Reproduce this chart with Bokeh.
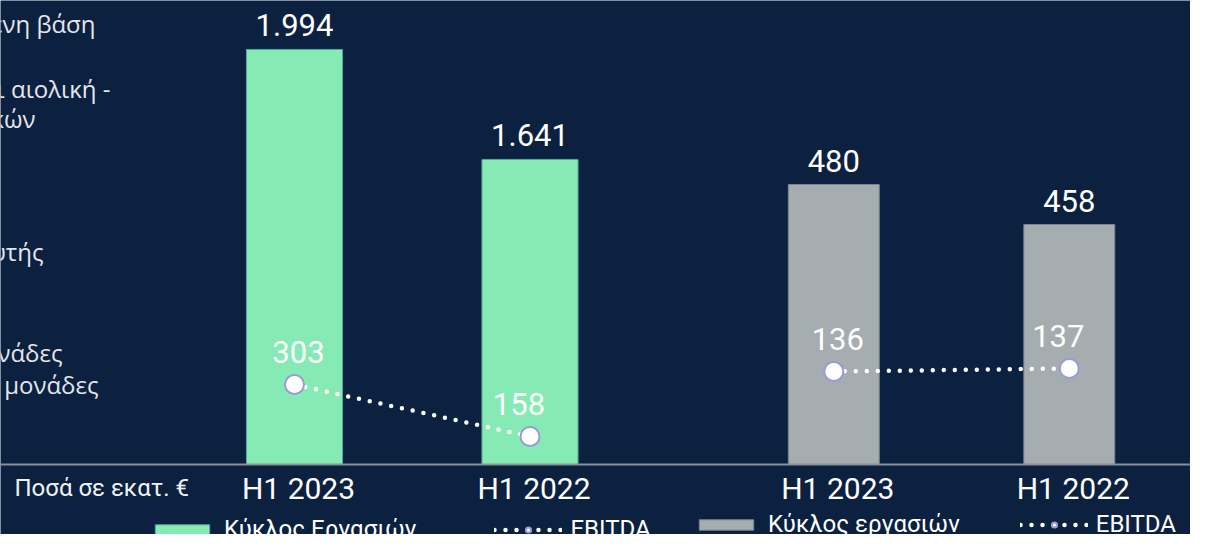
import numpy as np
from bokeh.plotting import figure
from bokeh.models import Range1d, ColumnDataSource, Label, Legend, LegendItem, Span
from bokeh.core.properties import value
from bokeh.embed import file_html
from bokeh.resources import INLINE

# ---------------- data ----------------
periods = ["H1 2023", "H1 2022"]
revenue_a = [1994, 1641]          # Κύκλος Εργασιών (green)
ebitda_a = [303, 158]
revenue_b = [480, 458]            # Κύκλος εργασιών (gray)
ebitda_b = [136, 137]
legend_rev_a = "Κύκλος Εργασιών"
legend_rev_b = "Κύκλος εργασιών"
legend_ebitda = "EBITDA"
unit_note = "Ποσά σε εκατ. €"
left_fragments = ["ενη βάση", "ι αιολική -", "κών", "υτής", "νάδες", "ς μονάδες"]


def gr(v):
    return f"{v:,}".replace(",", ".")


# ---------------- layout / style ----------------
W, H = 1190, 534
BELOW = 70                 # px under the baseline
ABOVE = H - BELOW
SLOT = 235.5               # px per category slot
FIRST = 294.0              # px of first category centre
GROUP_B_OFFSET = 2.29      # slot offset of second group
EB_LABEL_DX = [4, -11]     # small horizontal nudges of EBITDA labels

NAVY = "#0c2140"
GREEN = "#86eab4"
GRAY = "#a6adb0"
RING = "#9a9bd6"
FONT = value("Roboto")

xa = list(np.arange(len(periods)) + 0.0)
xb = list(np.arange(len(periods)) + GROUP_B_OFFSET)


def band(base, px_per_unit):
    return Range1d(base - BELOW / px_per_unit, base + ABOVE / px_per_unit)


BASE_RA, BASE_RB, BASE_EA, BASE_EB = 662, 326, 80, 105

p = figure(width=W, height=H, output_backend="svg", toolbar_location=None,
           x_axis_type=None, y_axis_type=None,
           x_range=Range1d(-FIRST / SLOT, (W - FIRST) / SLOT),
           y_range=Range1d(-BELOW / ABOVE, 1.0),
           min_border=0)
p.extra_y_ranges = {
    "ra": band(BASE_RA, 0.3116),
    "rb": band(BASE_RB, 1.818),
    "ea": band(BASE_EA, 0.3586),
    "eb": band(BASE_EB, 3.0),
}
p.background_fill_color = NAVY
p.border_fill_color = NAVY
p.outline_line_color = None

src_a = ColumnDataSource(dict(x=xa, rev=revenue_a, eb=ebitda_a,
                              rev_t=[gr(v) for v in revenue_a],
                              eb_t=[gr(v) for v in ebitda_a], per=periods,
                              dx=EB_LABEL_DX))
src_b = ColumnDataSource(dict(x=xb, rev=revenue_b, eb=ebitda_b,
                              rev_t=[gr(v) for v in revenue_b],
                              eb_t=[gr(v) for v in ebitda_b], per=periods,
                              dx=EB_LABEL_DX))

bars_a = p.vbar(x="x", top="rev", bottom=BASE_RA, width=0.408, source=src_a,
                y_range_name="ra", fill_color=GREEN, line_color="#5aa39c", line_width=1)
bars_b = p.vbar(x="x", top="rev", bottom=BASE_RB, width=0.386, source=src_b,
                y_range_name="rb", fill_color=GRAY, line_color="#7a8590", line_width=1)

for src, rn in ((src_a, "ra"), (src_b, "rb")):
    p.text(x="x", y="rev", text="rev_t", source=src, y_range_name=rn,
           y_offset=-24, text_align="center", text_baseline="alphabetic",
           text_font=FONT, text_font_size="31px", text_color="white")

p.add_layout(Span(location=0, dimension="width", line_color="#8a8f96", line_width=2))

line_a = p.line(x="x", y="eb", source=src_a, y_range_name="ea", line_color="white",
                line_width=4.5, line_dash="0 11", line_cap="round")
line_b = p.line(x="x", y="eb", source=src_b, y_range_name="eb", line_color="white",
                line_width=4.5, line_dash="0 11", line_cap="round")
dots_a = p.scatter(x="x", y="eb", source=src_a, y_range_name="ea", size=19,
                   fill_color="white", line_color=RING, line_width=2)
dots_b = p.scatter(x="x", y="eb", source=src_b, y_range_name="eb", size=19,
                   fill_color="white", line_color=RING, line_width=2)

for src, rn in ((src_a, "ea"), (src_b, "eb")):
    p.text(x="x", y="eb", text="eb_t", source=src, y_range_name=rn,
           x_offset="dx", y_offset=-33, text_align="center", text_baseline="alphabetic",
           text_font=FONT, text_font_size="31px", text_color="white")

# category labels under the baseline
for src in (src_a, src_b):
    p.text(x="x", y=0, text="per", source=src, x_offset=4, y_offset=24,
           text_align="center", text_baseline="alphabetic",
           text_font=FONT, text_font_size="30px", text_color="white")

p.add_layout(Label(x=14, y=47, x_units="screen", y_units="screen", text=unit_note,
                   text_font="Roboto", text_font_size="24px", text_color="#f0f2f5",
                   text_baseline="alphabetic"))

# cut-off text of the neighbouring panel
frag_x = [95, 110, 35, 43, 62, 98]
frag_y = [511, 446, 416, 283, 182, 150]
for t, fx, fy in zip(left_fragments, frag_x, frag_y):
    p.add_layout(Label(x=fx, y=fy, x_units="screen", y_units="screen", text=t,
                       text_font="Open Sans", text_font_size="24px",
                       text_color="#e4e6ec", text_align="right",
                       text_baseline="alphabetic"))


def make_legend(items, loc, spacing):
    lg = Legend(items=items, location=loc, orientation="horizontal",
                label_text_font="Roboto", label_text_font_size="24px",
                label_text_color="white", glyph_width=68, glyph_height=13,
                label_standoff=8, spacing=spacing, padding=0, margin=0,
                border_line_color=None, background_fill_alpha=0)
    return lg


p.add_layout(make_legend([LegendItem(label=legend_rev_a, renderers=[bars_a]),
                          LegendItem(label=legend_ebitda, renderers=[line_a, dots_a])],
                         (148, -9), 78))
p.add_layout(make_legend([LegendItem(label=legend_rev_b, renderers=[bars_b]),
                          LegendItem(label=legend_ebitda, renderers=[line_b, dots_b])],
                         (692, -4), 60))

open("out.html", "w").write(file_html(p, INLINE))
